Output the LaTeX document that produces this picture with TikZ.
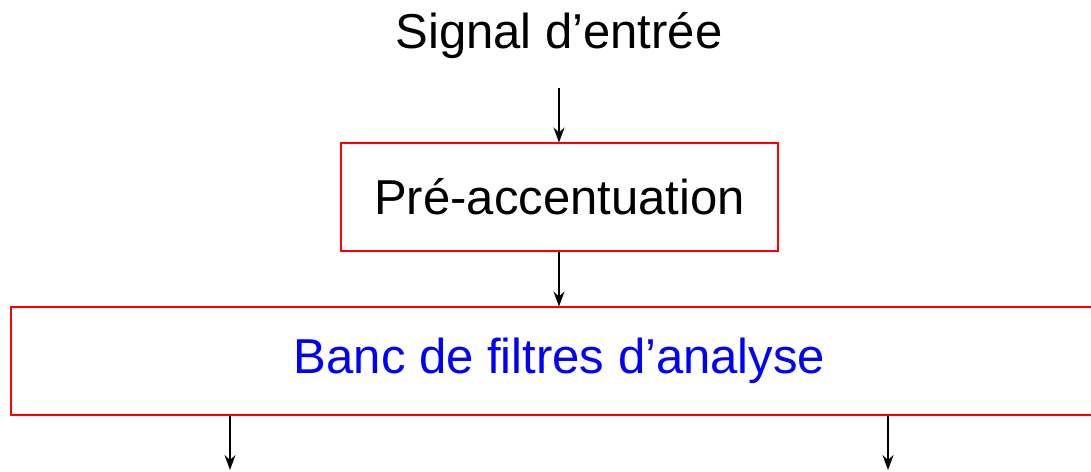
\documentclass[tikz,border=0pt]{standalone}
\usepackage{fontspec}
\setmainfont{Liberation Sans}
\usetikzlibrary{arrows.meta}

\tikzset{
  bloc/.style={draw=red, line width=0.6pt, minimum height=2.16cm, inner sep=0pt},
  fleche/.style={-{Stealth[length=3mm, width=2.2mm, inset=1mm]}, line width=0.6pt}
}

\begin{document}
\begin{tikzpicture}[font=\fontsize{27.9}{33}\selectfont]
		%%%%% START %%%%%
		\useasboundingbox (0, 0) rectangle (21.82, -9.44);
		
		\node[anchor=base] (signal) at (11.18, -0.96) {Signal d’entrée};
		
		\node[bloc, minimum width=8.74cm] (pre) at (11.19, -3.94) {Pré-accentuation};
		\node[bloc, minimum width=21.94cm, text=blue] (banc) at (11.19, -7.22) {Banc de filtres d’analyse};
		
		\coordinate (entree) at (11.18, -1.76);
		\coordinate (sortieA) at (4.60, -9.40);
		\coordinate (sortieB) at (17.76, -9.40);
		
		\draw[fleche] (entree) -- (entree |- pre.north);
		\draw[fleche] (pre.south -| entree) -- (banc.north -| entree);
		\draw[fleche] (banc.south -| sortieA) -- (sortieA);
		\draw[fleche] (banc.south -| sortieB) -- (sortieB);
		
		%%%%% END %%%%%
	\end{tikzpicture}
\end{document}
